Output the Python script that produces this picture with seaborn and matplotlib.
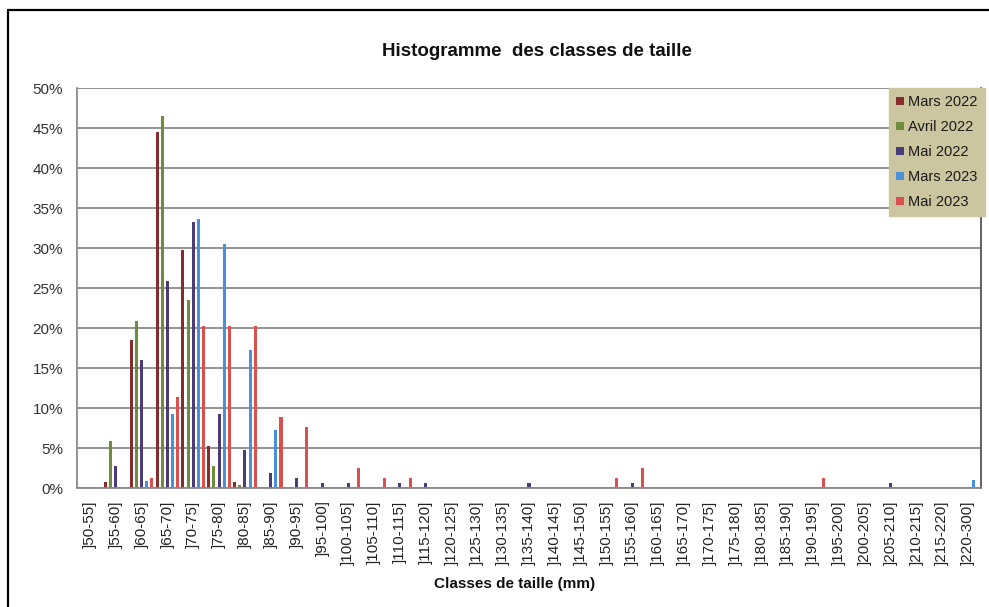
import matplotlib
matplotlib.use('Agg')
import matplotlib.pyplot as plt
import matplotlib.ticker as mticker
from matplotlib.patches import Patch
from matplotlib.lines import Line2D
import pandas as pd
import seaborn as sns

# Classes de taille (mm)
classes = [']50-55]', ']55-60]', ']60-65]', ']65-70]', ']70-75]', ']75-80]', ']80-85]',
           ']85-90]', ']90-95]', ']95-100]', ']100-105]', ']105-110]', ']110-115]',
           ']115-120]', ']120-125]', ']125-130]', ']130-135]', ']135-140]', ']140-145]',
           ']145-150]', ']150-155]', ']155-160]', ']160-165]', ']165-170]', ']170-175]',
           ']175-180]', ']180-185]', ']185-190]', ']190-195]', ']195-200]', ']200-205]',
           ']205-210]', ']210-215]', ']215-220]', ']220-300]']

# Pourcentages par campagne
mars_2022 = [0, 0.8, 18.5, 44.5, 29.8, 5.2, 0.8, 0, 0, 0, 0, 0, 0, 0, 0, 0, 0, 0,
             0, 0, 0, 0, 0, 0, 0, 0, 0, 0, 0, 0, 0, 0, 0, 0, 0]
avril_2022 = [0, 5.9, 20.9, 46.5, 23.5, 2.7, 0.4, 0, 0, 0, 0, 0, 0, 0, 0, 0, 0, 0,
              0, 0, 0, 0, 0, 0, 0, 0, 0, 0, 0, 0, 0, 0, 0, 0, 0]
mai_2022 = [0, 2.7, 16.0, 25.9, 33.2, 9.3, 4.7, 1.9, 1.3, 0.6, 0.6, 0, 0.6, 0.6, 0, 0, 0, 0.6,
            0, 0, 0, 0.6, 0, 0, 0, 0, 0, 0, 0, 0, 0, 0.6, 0, 0, 0]
mars_2023 = [0, 0, 0.9, 9.2, 33.6, 30.5, 17.3, 7.2, 0, 0, 0, 0, 0, 0, 0, 0, 0, 0,
             0, 0, 0, 0, 0, 0, 0, 0, 0, 0, 0, 0, 0, 0, 0, 0, 1.0]
mai_2023 = [0, 0, 1.27, 11.4, 20.25, 20.25, 20.25, 8.86, 7.6, 0, 2.53, 1.27, 1.27, 0, 0, 0, 0, 0,
            0, 0, 1.27, 2.53, 0, 0, 0, 0, 0, 0, 1.27, 0, 0, 0, 0, 0, 0]

series = ['Mars 2022', 'Avril 2022', 'Mai 2022', 'Mars 2023', 'Mai 2023']
couleurs = ['#862C2C', '#6F8C3A', '#4B3B78', '#4A90D8', '#D9504E']

frames = []
for nom, vals in zip(series, [mars_2022, avril_2022, mai_2022, mars_2023, mai_2023]):
    frames.append(pd.DataFrame({'classe': classes, 'pct': vals, 'serie': nom}))
df = pd.concat(frames, ignore_index=True)

sns.set_style('white')
plt.rcParams['font.family'] = ['Liberation Sans', 'DejaVu Sans']

fig = plt.figure(figsize=(9.89, 6.07), dpi=100)
ax = fig.add_axes([77 / 989, 1 - 488 / 607, 904 / 989, 400 / 607])

sns.barplot(data=df, x='classe', y='pct', hue='serie', order=classes, hue_order=series,
            palette=couleurs, width=1.0, gap=0.4, legend=False, ax=ax, saturation=1,
            linewidth=0)

ax.set_ylim(0, 50)
ax.set_xlim(-0.5, len(classes) - 0.5)
ax.set_yticks(range(0, 51, 5))
ax.yaxis.set_major_formatter(mticker.PercentFormatter(xmax=100, decimals=0))
ax.yaxis.grid(True, color='#8a8a8a', linewidth=1.3)
ax.set_axisbelow(True)
ax.set_xlabel('')
ax.set_ylabel('')

# ticks x aux limites de classes, labels au centre
ax.set_xticks(range(len(classes)))
ax.set_xticklabels(classes, rotation=90, fontsize=11, color='#222222')
ax.set_xticks([i - 0.5 for i in range(len(classes) + 1)], minor=True)
ax.tick_params(axis='x', which='major', length=0, pad=9)
ax.tick_params(axis='x', which='minor', length=5, color='#8a8a8a', width=1.2, direction='out')
ax.tick_params(axis='y', length=4, color='#8a8a8a', width=1.2, direction='out',
               labelsize=11, labelcolor='#333333', pad=6)

for side in ['left', 'bottom']:
    ax.spines[side].set_color('#8a8a8a')
    ax.spines[side].set_linewidth(1.3)
ax.spines['right'].set_color('#555555')
ax.spines['right'].set_linewidth(1.3)
ax.spines['top'].set_visible(False)

fig.text(537 / 989, 1 - 52 / 607, 'Histogramme  des classes de taille', ha='center',
         va='center', fontsize=13.5, fontweight='bold', color='#111111')
fig.text(515 / 989, 1 - 584 / 607, 'Classes de taille (mm)', ha='center', va='center',
         fontsize=11, fontweight='bold', color='#111111')

handles = [Patch(facecolor=c, edgecolor='none', label=s) for c, s in zip(couleurs, series)]
leg = fig.legend(handles=handles, loc='upper left', bbox_to_anchor=(889 / 989, 1 - 88 / 607),
                 frameon=True, fontsize=10.5, handlelength=0.5, handleheight=0.5,
                 handletextpad=0.3, labelspacing=0.75, borderpad=0.5, borderaxespad=0,
                 fancybox=False)
for t in leg.get_texts():
    t.set_color('#1a1a1a')
leg.get_frame().set_facecolor('#CBC5A0')
leg.get_frame().set_edgecolor('#CBC5A0')
leg.get_frame().set_alpha(1)

# cadre noir autour du graphique
fig.add_artist(Line2D([8 / 989, 8 / 989], [0, 1 - 10 / 607], color='black', linewidth=1.6))
fig.add_artist(Line2D([8 / 989, 1], [1 - 10 / 607, 1 - 10 / 607], color='black', linewidth=1.6))

fig.savefig('out.png', dpi=100)
